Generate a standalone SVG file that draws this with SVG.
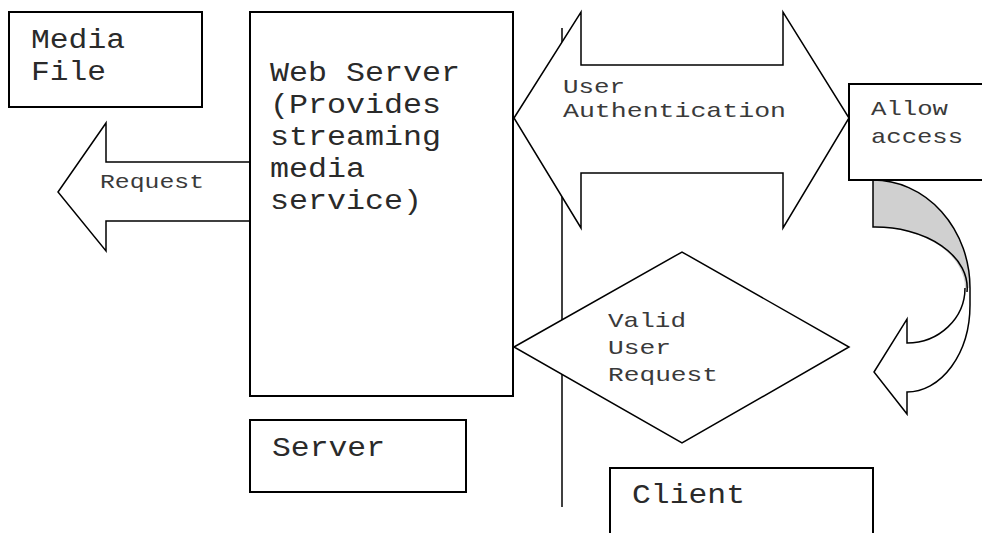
<svg xmlns="http://www.w3.org/2000/svg" width="982" height="533" viewBox="0 0 982 533">
  <style>
    .box { fill: #ffffff; stroke: #000000; stroke-width: 2; }
    .shape { fill: #ffffff; stroke: #000000; stroke-width: 1.5; stroke-linejoin: miter; }
    .edge { fill: none; stroke: #000000; stroke-width: 1.5; }
    .big { font-family: "Liberation Mono", "Courier New", monospace; font-size: 27px; fill: #2a2a2a; }
    .small { font-family: "Liberation Mono", "Courier New", monospace; font-size: 21px; fill: #3a3a3a; }
  </style>
  <rect width="982" height="533" fill="#ffffff"/>

  <g id="connectors">
    <!-- divider between server side and client side -->
    <line class="edge" x1="562" y1="28" x2="562" y2="507"/>

    <!-- request arrow pointing left out of the web server -->
    <g id="request-arrow">
      <polygon class="shape" points="250,162 106,162 106,123 58,192 106,251 106,221 250,221"/>
      <text class="small" x="100" y="188" textLength="104" lengthAdjust="spacingAndGlyphs">Request</text>
    </g>

    <!-- two-way authentication arrow -->
    <g id="auth-arrow">
      <polygon class="shape" points="514,118 581,12 581,65 783,65 783,12 849,118 783,228 783,173 581,173 581,228"/>
      <text class="small" x="563" y="93" textLength="62" lengthAdjust="spacingAndGlyphs">User</text>
      <text class="small" x="563" y="117" textLength="223" lengthAdjust="spacingAndGlyphs">Authentication</text>
    </g>

    <!-- curved arrow from "Allow access" back to the request -->
    <g id="curved-arrow">
      <path d="M873,180 A97,108 0 0 1 970,288 L965,288 A92,61 0 0 0 873,227 Z" fill="#d0d0d0" stroke="none"/>
      <path d="M970,288 L970,305 A63,87 0 0 1 907,392 L907,414 L874,372 L907,319 L907,343 A58,55 0 0 0 965,288 Z" fill="#ffffff" stroke="none"/>
      <path class="edge" d="M873,180 A97,108 0 0 1 970,288 L970,305 A63,87 0 0 1 907,392 L907,414 L874,372 L907,319 L907,343 A58,55 0 0 0 965,288"/>
      <path class="edge" d="M873,180 L873,227 A92,61 0 0 1 967,292"/>
    </g>
  </g>

  <g id="media-file">
    <rect class="box" x="9" y="12" width="193" height="95"/>
    <text class="big" x="31" y="48" textLength="94" lengthAdjust="spacingAndGlyphs">Media</text>
    <text class="big" x="31" y="80" textLength="75" lengthAdjust="spacingAndGlyphs">File</text>
  </g>

  <g id="web-server">
    <rect class="box" x="250" y="12" width="263" height="384"/>
    <text class="big" x="270" y="81" textLength="190" lengthAdjust="spacingAndGlyphs">Web Server</text>
    <text class="big" x="270" y="113" textLength="171" lengthAdjust="spacingAndGlyphs">(Provides</text>
    <text class="big" x="270" y="145" textLength="171" lengthAdjust="spacingAndGlyphs">streaming</text>
    <text class="big" x="270" y="177" textLength="95" lengthAdjust="spacingAndGlyphs">media</text>
    <text class="big" x="270" y="209" textLength="152" lengthAdjust="spacingAndGlyphs">service)</text>
  </g>

  <g id="server">
    <rect class="box" x="250" y="420" width="216" height="72"/>
    <text class="big" x="272" y="456" textLength="113" lengthAdjust="spacingAndGlyphs">Server</text>
  </g>

  <g id="allow-access">
    <rect class="box" x="849" y="84" width="150" height="96"/>
    <text class="small" x="871" y="115" textLength="77" lengthAdjust="spacingAndGlyphs">Allow</text>
    <text class="small" x="871" y="143" textLength="92" lengthAdjust="spacingAndGlyphs">access</text>
  </g>

  <g id="valid-request">
    <polygon class="shape" points="514,347 682,252 849,347 682,443"/>
    <text class="small" x="608" y="327" textLength="78" lengthAdjust="spacingAndGlyphs">Valid</text>
    <text class="small" x="608" y="354" textLength="63" lengthAdjust="spacingAndGlyphs">User</text>
    <text class="small" x="608" y="381" textLength="110" lengthAdjust="spacingAndGlyphs">Request</text>
  </g>

  <g id="client">
    <rect class="box" x="610" y="468" width="263" height="80"/>
    <text class="big" x="632" y="503" textLength="113" lengthAdjust="spacingAndGlyphs">Client</text>
  </g>
</svg>
